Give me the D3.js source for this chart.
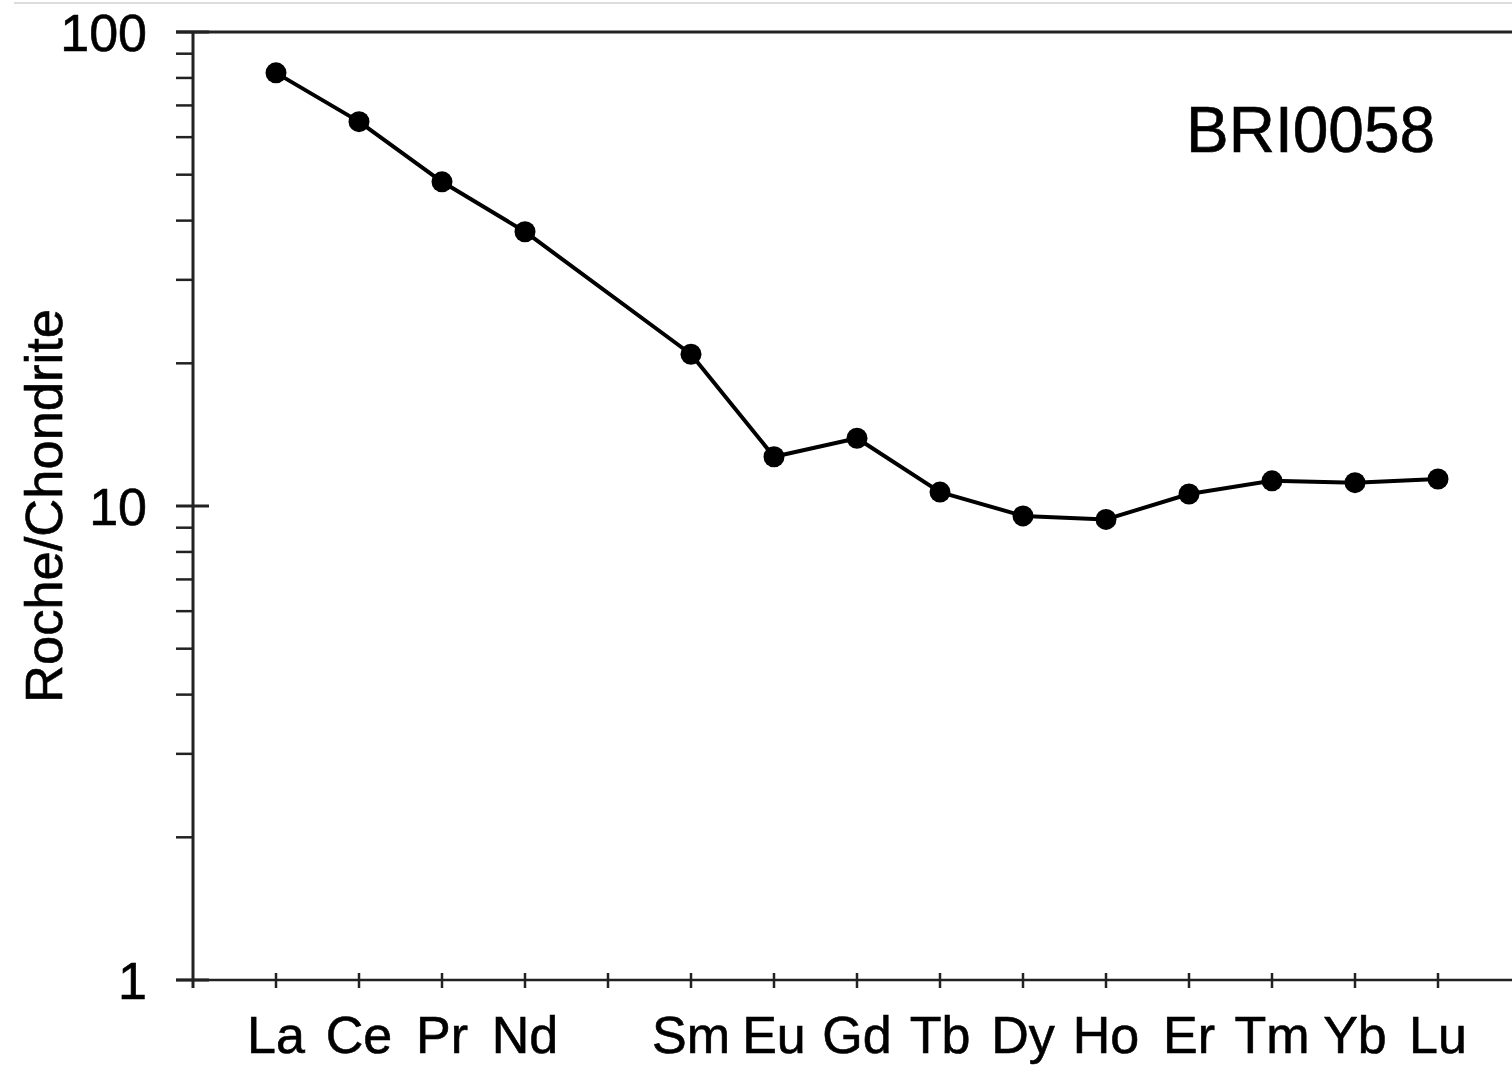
<!DOCTYPE html>
<html>
<head>
<meta charset="utf-8">
<script src="https://cdn.jsdelivr.net/npm/d3@7"></script>
<style>
  html, body { margin: 0; padding: 0; background: #fff; }
  svg { display: block; font-family: "Liberation Sans", Arial, sans-serif; }
  svg text { stroke: #000; stroke-width: 0.6px; }
</style>
</head>
<body>
<svg id="chart" width="1512" height="1067"></svg>
<script>
// ---- data ----
const elements = ["La","Ce","Pr","Nd","Pm","Sm","Eu","Gd","Tb","Dy","Ho","Er","Tm","Yb","Lu"];
const values   = [82.0, 64.7, 48.3, 37.9, null, 20.9, 12.7, 13.9, 10.7, 9.53, 9.37, 10.6, 11.3, 11.2, 11.4];
const labeledElements = ["La","Ce","Pr","Nd","Sm","Eu","Gd","Tb","Dy","Ho","Er","Tm","Yb","Lu"];
const yMajorTicks = [1, 10, 100];
const yTickLabels = ["1", "10", "100"];
const sampleName = "BRI0058";
const yTitle = "Roche/Chondrite";

(function () {
// ---- layout ----
const svg = d3.select("#chart");
const W = 1512;
const plotLeft = 193, plotTop = 32, plotBottom = 980, step = 83;

const x = d3.scaleLinear().domain([0, 16]).range([plotLeft, plotLeft + 16 * step]);
const y = d3.scaleLog().domain([1, 100]).range([plotBottom, plotTop]);

const ink = "#000";

// faint top border
svg.append("line").attr("x1", 14).attr("x2", W).attr("y1", 3).attr("y2", 3)
  .attr("stroke", "#dcdcdc").attr("stroke-width", 2);

// frame top line
svg.append("line").attr("x1", 176).attr("x2", W).attr("y1", plotTop).attr("y2", plotTop)
  .attr("stroke", "#222").attr("stroke-width", 3);

// x axis line
svg.append("line").attr("x1", 176).attr("x2", W).attr("y1", plotBottom).attr("y2", plotBottom)
  .attr("stroke", "#222").attr("stroke-width", 2.5);

// y axis line
svg.append("line").attr("x1", plotLeft).attr("x2", plotLeft).attr("y1", plotTop).attr("y2", plotBottom + 8)
  .attr("stroke", "#222").attr("stroke-width", 3);

// y minor ticks
const minor = y.ticks(10).filter(v => yMajorTicks.indexOf(v) < 0);
svg.append("g").selectAll("line").data(minor).join("line")
  .attr("x1", 176).attr("x2", plotLeft)
  .attr("y1", d => y(d)).attr("y2", d => y(d))
  .attr("stroke", "#222").attr("stroke-width", 2.5);

// y major ticks
svg.append("g").selectAll("line").data(yMajorTicks).join("line")
  .attr("x1", 176).attr("x2", 209)
  .attr("y1", d => y(d)).attr("y2", d => y(d))
  .attr("stroke", "#222").attr("stroke-width", 3);

// y tick labels
svg.append("g").selectAll("text").data(yMajorTicks).join("text")
  .attr("x", 147).attr("y", d => y(d) + 19)
  .attr("text-anchor", "end")
  .attr("font-size", 52).attr("fill", ink)
  .text((d, i) => yTickLabels[i]);

// x ticks (indices 1..16)
const xTickIdx = d3.range(1, 17);
svg.append("g").selectAll("line").data(xTickIdx).join("line")
  .attr("x1", d => x(d)).attr("x2", d => x(d))
  .attr("y1", plotBottom - 7).attr("y2", plotBottom + 8)
  .attr("stroke", "#222").attr("stroke-width", 2.5);

// x labels
svg.append("g").selectAll("text")
  .data(elements.map((e, i) => ({e, i})).filter(d => labeledElements.includes(d.e)))
  .join("text")
  .attr("x", d => x(d.i + 1)).attr("y", 1053)
  .attr("text-anchor", "middle")
  .attr("font-size", 52).attr("fill", ink)
  .text(d => d.e);

// y title
svg.append("text")
  .attr("transform", "translate(62,506) rotate(-90)")
  .attr("text-anchor", "middle")
  .attr("font-size", 52.5).attr("fill", ink)
  .text(yTitle);

// sample name
svg.append("text")
  .attr("x", 1186).attr("y", 152)
  .attr("font-size", 64).attr("fill", ink)
  .text(sampleName);

// data line and points
const pts = elements.map((e, i) => ({e, i, v: values[i]})).filter(d => d.v != null);
const line = d3.line().x(d => x(d.i + 1)).y(d => y(d.v));
svg.append("path").datum(pts).attr("d", line)
  .attr("fill", "none").attr("stroke", ink).attr("stroke-width", 4)
  .attr("stroke-linejoin", "round");
svg.append("g").selectAll("circle").data(pts).join("circle")
  .attr("cx", d => x(d.i + 1)).attr("cy", d => y(d.v)).attr("r", 10.5)
  .attr("fill", "#000");
})();
</script>
</body>
</html>
